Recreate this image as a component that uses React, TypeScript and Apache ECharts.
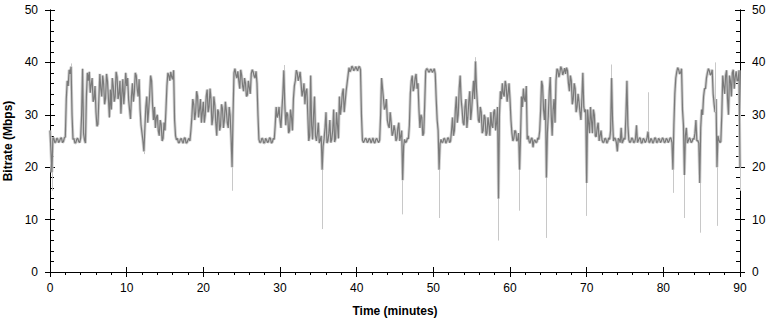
import React, { useEffect, useRef } from 'react';
import * as echarts from 'echarts';

// Sampling step of the bitrate trace, in minutes
const STEP_MIN = 0.25;

// Bitrate (Mbps) at t = i * 0.25 min, 0 to 90 min (one row = 5 minutes)
const bitrateMbps: number[] = [
  27, 19, 25.5, 24.8, 25.4, 25.0, 25.6, 24.9, 25.8, 36.5, 38.6, 39.2, 25.3, 24.6, 25.4, 24.9, 25.6, 38.8, 25.2, 33.5,
  36.5, 34.2, 37.0, 33.0, 30.5, 28.2, 37.8, 33.5, 35.8, 33.2, 36.4, 29.5, 31.0, 35.5, 33.4, 37.2, 34.0, 30.2, 36.8, 34.5,
  35.5, 33.0, 29.2, 36.0, 34.2, 37.5, 33.5, 31.0, 26.5, 23.0, 31.5, 28.5, 33.8, 36.5, 29.0, 27.5, 30.0, 26.0, 28.2, 25.5,
  27.0, 35.5, 37.5, 38.2, 36.8, 29.0, 25.2, 24.7, 25.3, 24.9, 25.5, 24.6, 25.2, 25.0, 29.5, 32.0, 30.5, 33.5, 31.0, 28.5,
  32.5, 30.0, 34.8, 31.5, 33.0, 29.5, 31.8, 26.0, 30.5, 28.0, 31.2, 29.0, 30.8, 27.5, 29.8, 20.0, 38.0, 37.6, 38.3, 35.0,
  37.5, 34.5, 36.0, 33.8, 35.2, 37.8, 38.2, 37.0, 36.0, 25.3, 24.8, 25.4, 24.7, 25.2, 24.9, 25.5, 24.8, 25.3, 31.5, 30.0,
  29.0, 31.0, 38.5, 28.0, 30.0, 27.0, 29.5, 33.0, 36.5, 38.0, 37.2, 36.0, 34.5, 32.0, 35.0, 25.0, 37.5, 25.3, 33.5, 25.0,
  28.5, 25.2, 19.5, 25.4, 30.5, 25.0, 29.0, 25.3, 31.0, 25.5, 28.0, 33.5, 31.5, 35.0, 32.5, 36.0, 39.0, 38.6, 39.0, 38.7,
  38.8, 39.1, 38.6, 25.2, 25.0, 25.4, 24.9, 25.3, 25.1, 24.8, 25.3, 25.0, 25.2, 37.0, 33.0, 31.5, 29.0, 27.5, 28.5, 26.5,
  27.0, 25.5, 28.5, 26.0, 17.5, 25.3, 24.9, 25.4, 34.0, 37.5, 35.2, 37.8, 36.0, 27.5, 29.5, 26.5, 38.3, 38.7, 38.2, 38.6,
  38.4, 37.8, 29.0, 19.5, 25.3, 24.8, 25.4, 24.9, 25.5, 25.0, 29.5, 27.0, 33.5, 30.0, 37.5, 31.0, 28.0, 33.0, 29.5, 34.5,
  31.0, 36.5, 40.2, 32.0, 28.5, 30.5, 27.0, 29.5, 26.5, 28.0, 30.5, 27.5, 31.0, 28.5, 14.0, 34.5, 36.0, 33.5, 35.5, 34.0,
  33.0, 26.5, 25.5, 26.8, 25.2, 19.5, 33.5, 35.0, 32.5, 25.3, 24.9, 25.4, 23.8, 25.2, 24.8, 25.3, 31.0, 35.5, 29.0, 18.0,
  30.0, 37.2, 26.0, 33.0, 36.5, 38.5, 38.0, 38.7, 38.2, 37.8, 38.4, 34.5, 36.5, 33.0, 35.0, 31.5, 32.5, 29.0, 38.0, 30.5,
  17.0, 28.5, 31.5, 26.5, 30.0, 25.8, 28.5, 26.0, 25.2, 24.8, 25.4, 24.9, 25.3, 37.0, 25.0, 25.4, 23.0, 25.3, 27.5, 25.0,
  25.3, 36.5, 25.2, 24.9, 25.4, 24.8, 28.0, 25.1, 25.5, 24.7, 25.3, 25.0, 26.8, 24.8, 25.2, 24.9, 25.5, 24.8, 25.3, 25.0,
  25.4, 24.8, 25.3, 25.0, 25.5, 19.5, 34.0, 38.2, 38.6, 38.0, 31.0, 18.5, 27.5, 25.0, 25.4, 24.9, 25.3, 29.0, 25.1, 17.0,
  31.0, 33.5, 35.0, 38.0, 38.4, 37.8, 34.0, 30.5, 20.0, 25.2, 24.9, 37.5, 34.0, 38.5, 30.0, 36.5, 38.0, 35.0, 38.3, 36.5, 20.0,
];

// Bitrate (Mbps) at the in-between samples t = i * 0.25 + 0.125 min
const bitrateHalfStep: number[] = [
  23, 25.6, 24.7, 25.5, 24.7, 25.5, 24.7, 25.6, 33.0, 35.5, 37.8, 30.0, 25.5, 24.7, 25.5, 24.7, 30.0, 26.5, 24.6, 38.0,
  38.2, 35.8, 32.5, 35.5, 27.8, 33.0, 35.0, 37.5, 32.0, 37.8, 33.0, 34.8, 37.0, 32.5, 38.2, 33.0, 36.5, 34.0, 32.0, 38.0,
  37.0, 31.0, 33.5, 32.5, 38.0, 35.0, 36.8, 28.0, 25.0, 27.5, 33.5, 31.0, 37.5, 32.0, 31.5, 29.5, 27.0, 29.0, 25.0, 28.5,
  31.0, 38.0, 36.5, 37.2, 38.5, 26.0, 25.5, 24.7, 25.5, 24.6, 25.6, 24.7, 25.5, 27.0, 33.0, 29.0, 34.5, 29.5, 33.0, 30.5,
  28.5, 33.5, 30.5, 35.0, 28.0, 33.5, 28.5, 31.0, 27.0, 32.0, 27.5, 32.5, 28.5, 31.5, 25.5, 30.0, 38.8, 37.0, 36.5, 38.6,
  35.5, 37.0, 33.5, 36.5, 34.0, 38.6, 37.4, 38.3, 30.0, 24.7, 25.5, 24.6, 25.5, 24.7, 25.6, 24.6, 25.5, 28.0, 29.5, 31.5,
  27.5, 34.0, 32.0, 30.5, 26.5, 31.0, 27.0, 35.5, 38.5, 36.5, 38.2, 33.5, 36.0, 34.5, 30.0, 26.0, 28.0, 30.0, 26.0, 26.5,
  24.6, 26.0, 24.0, 27.5, 24.6, 26.5, 24.7, 27.0, 24.8, 30.5, 25.5, 30.0, 34.0, 30.5, 34.5, 37.5, 38.2, 39.3, 38.4, 39.2,
  38.4, 39.2, 30.0, 24.7, 25.5, 24.7, 25.5, 24.6, 25.6, 24.6, 25.5, 24.7, 30.0, 35.0, 31.0, 33.0, 28.0, 30.5, 26.0, 28.0,
  25.0, 27.5, 25.0, 27.0, 24.0, 24.7, 25.6, 28.0, 36.5, 34.5, 37.0, 35.0, 31.0, 30.0, 26.0, 32.0, 38.8, 38.2, 38.7, 38.1,
  38.8, 33.0, 27.0, 24.5, 24.7, 25.5, 24.6, 25.6, 24.7, 27.0, 26.0, 31.0, 28.5, 35.0, 33.0, 28.5, 31.5, 27.5, 32.5, 29.0,
  34.0, 33.0, 35.0, 29.0, 31.5, 26.5, 30.0, 26.0, 29.5, 26.0, 28.0, 30.5, 27.0, 31.5, 30.0, 33.0, 34.0, 36.5, 32.5, 36.0,
  29.0, 25.0, 27.0, 25.0, 26.5, 26.0, 31.5, 33.0, 35.5, 26.0, 24.6, 25.6, 25.0, 24.7, 25.6, 27.0, 36.5, 31.0, 33.0, 26.5,
  34.5, 30.0, 31.0, 28.5, 38.8, 37.2, 39.2, 37.6, 38.9, 39.0, 36.0, 37.5, 32.0, 36.0, 30.5, 34.0, 30.5, 33.0, 31.5, 31.0,
  31.0, 26.5, 29.0, 31.0, 26.0, 27.5, 25.0, 27.0, 24.7, 25.5, 24.6, 25.6, 27.0, 29.0, 25.6, 24.7, 25.5, 24.7, 24.6, 25.6,
  30.0, 28.0, 24.7, 25.6, 24.7, 25.5, 24.7, 25.6, 24.6, 25.5, 24.7, 25.6, 24.7, 25.5, 24.6, 25.6, 24.7, 25.5, 24.7, 25.6,
  24.7, 25.5, 24.7, 25.6, 24.7, 28.0, 37.0, 39.0, 37.8, 38.8, 28.0, 26.0, 24.6, 25.6, 24.7, 25.5, 26.5, 25.0, 24.6, 27.5,
  30.0, 35.0, 37.0, 38.8, 37.6, 38.6, 32.0, 33.0, 26.0, 24.7, 30.0, 35.5, 37.5, 33.0, 37.5, 33.5, 38.6, 37.2, 36.5, 38.5,
];

// Short downward drops (light trace) : time (min) and lowest value (Mbps)
const dropTimes = [0.25, 12.25, 23.75, 35.5, 46.0, 50.75, 58.5, 61.25, 64.75, 70.0, 81.25, 82.75, 84.75, 87.0, 90.0];
const dropLows = [15.5, 22.5, 15.5, 8.2, 11.0, 10.3, 6.0, 11.7, 6.5, 10.7, 15.1, 10.3, 7.5, 8.8, 15.5];

// Short upward peaks (light trace)
const peakTimes = [2.75, 30.5, 55.5, 73.25, 78.0, 86.75];
const peakHighs = [39.8, 39.5, 41.0, 39.6, 34.3, 40.0];

const X_MIN = 0, X_MAX = 90, X_INTERVAL = 10;
const Y_MIN = 0, Y_MAX = 50, Y_INTERVAL = 10;

const FONT = '"Liberation Sans", Arial, Helvetica, sans-serif';

export default function App() {
  const ref = useRef<HTMLDivElement>(null);

  useEffect(() => {
    const chart = echarts.init(ref.current!, null, { renderer: 'svg' });
    const points: number[][] = [];
    bitrateMbps.forEach((v, i) => {
      points.push([i * STEP_MIN, v]);
      if (i < bitrateHalfStep.length) points.push([i * STEP_MIN + STEP_MIN / 2, bitrateHalfStep[i]]);
    });
    const valueAt = (t: number) => bitrateMbps[Math.round(t / STEP_MIN)];
    const segs: any[] = [
      ...dropTimes.map((t, i) => [{ coord: [t, valueAt(t)] }, { coord: [t, dropLows[i]] }]),
      ...peakTimes.map((t, i) => [{ coord: [t, valueAt(t)] }, { coord: [t, peakHighs[i]] }]),
    ];

    const black = '#000';
    const base = (min: number, max: number, interval: number) => ({
      type: 'value',
      min,
      max,
      interval,
      splitLine: { show: false },
      axisLine: { show: true, onZero: false, lineStyle: { color: black, width: 1 } },
    });
    const labelStyle = { color: black, fontSize: 12, fontFamily: FONT };
    const nameStyle = { color: black, fontSize: 12, fontWeight: 'bold', fontFamily: FONT };

    chart.setOption({
      animation: false,
      backgroundColor: '#fff',
      grid: { left: 50, right: 32, top: 10, bottom: 50, containLabel: false, outerBoundsMode: 'none' },
      xAxis: [
        {
          ...base(X_MIN, X_MAX, X_INTERVAL),
          position: 'bottom',
          axisTick: { show: true, inside: false, length: 5, lineStyle: { color: black } },
          minorTick: { show: true, splitNumber: 5, length: 3, lineStyle: { color: black } },
          axisLabel: { ...labelStyle, margin: 10 },
          name: 'Time (minutes)',
          nameLocation: 'middle',
          nameGap: 33,
          nameTextStyle: nameStyle,
        },
        {
          ...base(X_MIN, X_MAX, X_INTERVAL),
          position: 'bottom',
          axisTick: { show: true, inside: true, length: 5, lineStyle: { color: black } },
          axisLabel: { show: false },
        },
      ],
      yAxis: [
        {
          ...base(Y_MIN, Y_MAX, Y_INTERVAL),
          position: 'left',
          axisTick: { show: true, inside: false, length: 5, lineStyle: { color: black } },
          axisLabel: { ...labelStyle, margin: 12 },
          name: 'Bitrate (Mbps)',
          nameLocation: 'middle',
          nameGap: 34,
          nameTextStyle: nameStyle,
        },
        {
          ...base(Y_MIN, Y_MAX, Y_INTERVAL),
          position: 'left',
          axisTick: { show: true, inside: true, length: 5, lineStyle: { color: black } },
          minorTick: { show: true, splitNumber: 5, length: 4, lineStyle: { color: black } },
          axisLabel: { show: false },
        },
        {
          ...base(Y_MIN, Y_MAX, Y_INTERVAL),
          position: 'right',
          axisTick: { show: true, inside: false, length: 5, lineStyle: { color: black } },
          axisLabel: { ...labelStyle, margin: 12 },
        },
        {
          ...base(Y_MIN, Y_MAX, Y_INTERVAL),
          position: 'right',
          axisTick: { show: true, inside: true, length: 5, lineStyle: { color: black } },
          minorTick: { show: true, splitNumber: 5, length: 4, lineStyle: { color: black } },
          axisLabel: { show: false },
        },
      ],
      series: [
        {
          type: 'line',
          name: 'envelope',
          xAxisIndex: 0,
          yAxisIndex: 0,
          data: points,
          showSymbol: false,
          symbol: 'none',
          sampling: undefined,
          z: 1,
          lineStyle: { color: '#cfcfcf', width: 3, join: 'bevel' },
          markLine: {
            silent: true,
            symbol: ['none', 'none'],
            label: { show: false },
            lineStyle: { color: '#c8c8c8', width: 1, type: 'solid' },
            data: segs,
          },
        },
        {
          type: 'line',
          name: 'bitrate',
          xAxisIndex: 0,
          yAxisIndex: 0,
          data: points,
          showSymbol: false,
          symbol: 'none',
          z: 3,
          lineStyle: { color: '#7a7a7a', width: 1.2, join: 'bevel' },
        },
      ],
    });
    return () => chart.dispose();
  }, []);

  return (
    <div
      ref={ref}
      style={{ position: 'absolute', left: 0, top: 0, width: 772, height: 322, background: '#fff' }}
    />
  );
}
